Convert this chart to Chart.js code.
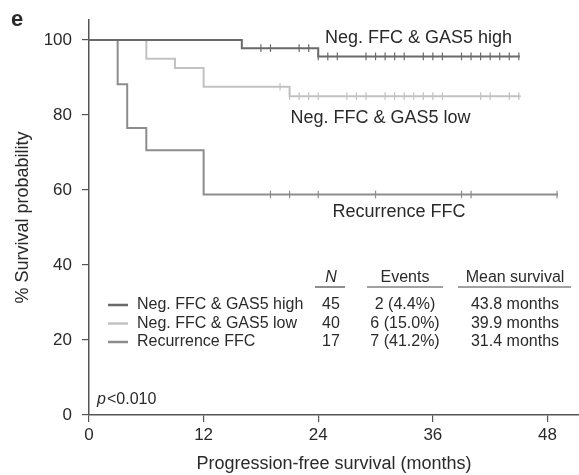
<!DOCTYPE html>
<html>
<head>
<meta charset="utf-8">
<script src="https://cdn.jsdelivr.net/npm/chart.js@4/dist/chart.umd.min.js"></script>
<style>
html,body{margin:0;padding:0;background:#fff;}
#wrap{width:579px;height:475px;}
</style>
</head>
<body>
<div id="wrap"><canvas id="c" width="579" height="475"></canvas></div>
<script>
// ---- Data ----
const groupNames = ["Neg. FFC & GAS5 high", "Neg. FFC & GAS5 low", "Recurrence FFC"];
const groupColors = ["#6a6a6a", "#c2c2c2", "#8d8d8d"];
const groupN = ["45", "40", "17"];
const groupEvents = ["2 (4.4%)", "6 (15.0%)", "7 (41.2%)"];
const groupMean = ["43.8 months", "39.9 months", "31.4 months"];

// step curves: time of change, survival after change (last point = end of follow-up)
const highTimes = [0, 16, 24, 45.1];
const highSurv  = [100, 97.8, 95.6, 95.6];
const lowTimes  = [0, 6, 9, 12, 21, 45.2];
const lowSurv   = [100, 95, 92.5, 87.5, 85, 85];
const recTimes  = [0, 3, 4, 6, 12, 49.1];
const recSurv   = [100, 88.2, 76.5, 70.6, 58.8, 58.8];

// censored observations
const highCensTimes = [18, 19, 22, 23, 24, 25, 26, 29, 30, 31, 32, 33, 35, 36, 37, 39, 40, 41, 42, 43, 44, 45];
const highCensSurv  = [97.8, 97.8, 97.8, 97.8, 95.6, 95.6, 95.6, 95.6, 95.6, 95.6, 95.6, 95.6, 95.6, 95.6, 95.6, 95.6, 95.6, 95.6, 95.6, 95.6, 95.6, 95.6];
const lowCensTimes  = [20, 21, 22, 23, 24, 27, 28, 29, 31, 32, 33, 34, 35, 36, 37, 41, 42, 44, 45];
const lowCensSurv   = [87.5, 85, 85, 85, 85, 85, 85, 85, 85, 85, 85, 85, 85, 85, 85, 85, 85, 85, 85];
const recCensTimes  = [19, 21, 24, 30, 39, 40, 49];
const recCensSurv   = [58.8, 58.8, 58.8, 58.8, 58.8, 58.8, 58.8];

const xTicks = [0, 12, 24, 36, 48];
const yTicks = [0, 20, 40, 60, 80, 100];
const xTitle = "Progression-free survival (months)";
const yTitle = "% Survival probability";
const pText = "<0.010";
const panelLetter = "e";
const tableHeaders = ["N", "Events", "Mean survival"];

const pts = (xs, ys) => xs.map((x, i) => ({x: x, y: ys[i]}));
const FONT = "'Liberation Sans', Arial, Helvetica, sans-serif";
const TXT = "#2a2a2a";

function curve(xs, ys, color) {
  return {type: 'line', data: pts(xs, ys), borderColor: color, borderWidth: 2,
          stepped: 'before', pointRadius: 0, fill: false, order: 2, clip: false};
}
function cens(xs, ys, color) {
  return {type: 'scatter', data: pts(xs, ys), borderColor: color, backgroundColor: color,
          pointStyle: 'line', rotation: 90, pointRadius: 3.8, borderWidth: 1.2, order: 1, clip: false};
}

const overlay = {
  id: 'overlay',
  afterDraw(chart) {
    const ctx = chart.ctx;
    const xs = chart.scales.x, ys = chart.scales.y;
    const X = v => xs.getPixelForValue(v), Y = v => ys.getPixelForValue(v);
    ctx.save();
    ctx.fillStyle = TXT;
    ctx.textBaseline = 'middle';
    // panel letter
    ctx.font = "bold 22px " + FONT;
    ctx.textAlign = 'left';
    ctx.fillText(panelLetter, 11, 20);
    // curve labels
    ctx.font = "18px " + FONT;
    ctx.fillText(groupNames[0], X(24.7), Y(100.6));
    ctx.fillText(groupNames[1], X(21.1), Y(79.2));
    ctx.fillText(groupNames[2], X(25.5), Y(54));
    // p value
    ctx.font = "italic 16px " + FONT;
    ctx.fillText("p", X(0.85), Y(4));
    const pw = ctx.measureText("p").width;
    ctx.font = "16px " + FONT;
    ctx.fillText(pText, X(0.85) + pw + 1, Y(4));
    // table
    const colN = 331, colE = 405, colM = 515;
    const headY = 278, lineY = 287;
    ctx.font = "italic 16px " + FONT;
    ctx.textAlign = 'center';
    ctx.fillText(tableHeaders[0], colN, headY);
    ctx.font = "16px " + FONT;
    ctx.fillText(tableHeaders[1], colE, headY);
    ctx.fillText(tableHeaders[2], colM, headY);
    ctx.strokeStyle = "#444";
    ctx.lineWidth = 1.2;
    [[315, 345], [367, 443], [458, 571]].forEach(([a, b]) => {
      ctx.beginPath(); ctx.moveTo(a, lineY); ctx.lineTo(b, lineY); ctx.stroke();
    });
    const rowY = [305, 323.5, 342];
    for (let i = 0; i < 3; i++) {
      ctx.strokeStyle = groupColors[i];
      ctx.lineWidth = 2.5;
      ctx.beginPath(); ctx.moveTo(108, rowY[i]); ctx.lineTo(128, rowY[i]); ctx.stroke();
      ctx.fillStyle = TXT;
      ctx.textAlign = 'left';
      ctx.fillText(groupNames[i], 137, rowY[i]);
      ctx.textAlign = 'center';
      ctx.fillText(groupN[i], colN, rowY[i]);
      ctx.fillText(groupEvents[i], colE, rowY[i]);
      ctx.fillText(groupMean[i], colM, rowY[i] );
    }
    ctx.restore();
  }
};

new Chart(document.getElementById('c'), {
  data: {
    datasets: [
      curve(highTimes, highSurv, groupColors[0]),
      curve(lowTimes, lowSurv, groupColors[1]),
      curve(recTimes, recSurv, groupColors[2]),
      cens(highCensTimes, highCensSurv, groupColors[0]),
      cens(lowCensTimes, lowCensSurv, groupColors[1]),
      cens(recCensTimes, recCensSurv, groupColors[2])
    ]
  },
  options: {
    responsive: false,
    animation: false,
    layout: {autoPadding: false, padding: {top: 20, right: 0, left: 0, bottom: 0}},
    plugins: {legend: {display: false}, tooltip: {enabled: false}},
    scales: {
      x: {
        type: 'linear', min: 0, max: 51.3,
        afterBuildTicks: s => { s.ticks = xTicks.map(v => ({value: v})); },
        afterFit: s => { s.height = 60; s.paddingLeft = 0; s.paddingRight = 0; },
        grid: {drawOnChartArea: false, tickLength: 7, color: "#555", lineWidth: 1.2},
        border: {color: "#555", width: 1.5},
        ticks: {color: TXT, font: {family: FONT, size: 17}, padding: 3, maxRotation: 0},
        title: {display: true, text: xTitle, color: TXT, font: {family: FONT, size: 18}, padding: {top: 6, bottom: 0}}
      },
      y: {
        type: 'linear', min: 0, max: 105.3,
        afterBuildTicks: s => { s.ticks = yTicks.map(v => ({value: v})); },
        afterFit: s => { s.width = 89; s.paddingTop = 0; s.paddingBottom = 0; },
        grid: {drawOnChartArea: false, tickLength: 7, color: "#555", lineWidth: 1.2},
        border: {color: "#555", width: 1.5},
        ticks: {color: TXT, font: {family: FONT, size: 17}, padding: 10},
        title: {display: true, text: yTitle, color: TXT, font: {family: FONT, size: 18}, padding: {top: 12, bottom: 0}}
      }
    }
  },
  plugins: [overlay]
});
</script>
</body>
</html>
